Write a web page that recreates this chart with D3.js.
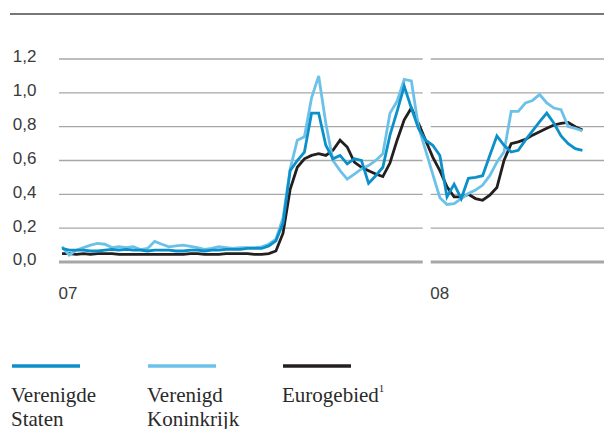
<!DOCTYPE html>
<html>
<head>
<meta charset="utf-8">
<script src="https://cdn.jsdelivr.net/npm/d3@7"></script>
<style>
  body { margin: 0; background: #fff; }
  svg { display: block; }
  .tick text { font-family: "Liberation Sans", Arial, sans-serif; font-size: 17px; fill: #3a3a3a; }
  .legend text { font-family: "Liberation Serif", "Times New Roman", serif; font-size: 21px; fill: #2a2a2a; }
</style>
</head>
<body>
<div id="chart"></div>
<script>
document.addEventListener("DOMContentLoaded", function () {

    // Weekly rates, first week of 2007 up to early June 2008
    var firstWeek = new Date(2007, 0, 4);

    var us = [
      0.08, 0.07, 0.07, 0.07, 0.065, 0.065, 0.07, 0.075, 0.07, 0.075, 0.07, 0.07, 0.065, 0.07, 0.07, 0.07,
      0.065, 0.065, 0.07, 0.07, 0.065, 0.07, 0.07, 0.075, 0.075, 0.075, 0.08, 0.08, 0.08, 0.095, 0.125,
      0.23, 0.54, 0.60, 0.65, 0.88, 0.88, 0.69, 0.61, 0.63, 0.58, 0.61, 0.60, 0.465, 0.51, 0.56, 0.75,
      0.89, 1.04, 0.91, 0.79, 0.72,
      0.69, 0.63, 0.385, 0.46, 0.375, 0.495, 0.50, 0.51, 0.63, 0.745, 0.69, 0.65, 0.66, 0.72, 0.775,
      0.83, 0.88, 0.82, 0.745, 0.70, 0.67, 0.66
    ];

    var uk = [
      0.09, 0.04, 0.07, 0.085, 0.10, 0.11, 0.105, 0.085, 0.09, 0.085, 0.09, 0.073, 0.08, 0.122, 0.105, 0.09,
      0.095, 0.10, 0.093, 0.085, 0.075, 0.08, 0.09, 0.085, 0.08, 0.085, 0.085, 0.085, 0.09, 0.105, 0.135,
      0.26, 0.55, 0.72, 0.74, 0.97, 1.10, 0.82, 0.60, 0.54, 0.49, 0.52, 0.55, 0.57, 0.60, 0.64, 0.88,
      0.95, 1.08, 1.07, 0.80, 0.66,
      0.52, 0.38, 0.34, 0.345, 0.375, 0.405, 0.425, 0.455, 0.51, 0.59, 0.65, 0.89, 0.89, 0.94, 0.955,
      0.99, 0.94, 0.91, 0.90, 0.80, 0.79, 0.775
    ];

    var euro = [
      0.05, 0.05, 0.045, 0.05, 0.045, 0.05, 0.05, 0.05, 0.045, 0.045, 0.045, 0.045, 0.045, 0.045, 0.045, 0.045,
      0.045, 0.045, 0.05, 0.05, 0.045, 0.045, 0.045, 0.05, 0.05, 0.05, 0.05, 0.045, 0.045, 0.05, 0.065,
      0.17, 0.43, 0.56, 0.61, 0.63, 0.64, 0.63, 0.66, 0.72, 0.68, 0.59, 0.56, 0.54, 0.52, 0.505, 0.585,
      0.72, 0.84, 0.91, 0.82, 0.72,
      0.62, 0.54, 0.445, 0.385, 0.385, 0.40, 0.375, 0.365, 0.395, 0.44, 0.60, 0.70, 0.71, 0.725, 0.75,
      0.77, 0.79, 0.81, 0.82, 0.825, 0.80, 0.78
    ];

    var yTicks = [0, 0.2, 0.4, 0.6, 0.8, 1.0, 1.2];
    var years = [new Date(2007, 0, 1), new Date(2008, 0, 1)];
    var yearLabels = ["07", "08"];

    var seriesNames = ["Verenigde Staten", "Verenigd Koninkrijk", "Eurogebied"];
    var seriesColors = ["#0b90c9", "#6cc1e9", "#231f20"];

    var w = 604;
    var h = 429;

    var x = d3.scaleTime()
      .domain([new Date(2007, 0, 1), new Date(2008, 0, 1)])
      .range([59, 430.7]);

    var y = d3.scaleLinear()
      .domain([0, 1.2])
      .range([262, 59]);

    var svg = d3.select("#chart")
      .append("svg")
      .attr("width", w)
      .attr("height", h);

    // rule at the top
    svg.append("line")
      .attr("x1", 10).attr("x2", w)
      .attr("y1", 14).attr("y2", 14)
      .attr("stroke", "#4a4a4a")
      .attr("stroke-width", 1.5);

    // gridlines, one segment per year with a small gap between
    var segments = years.map(function (d, i) {
      var next = d3.timeYear.offset(d, 1);
      return { x0: x(d), x1: i < years.length - 1 ? x(next) - 8 : w };
    });

    yTicks.forEach(function (t) {
      svg.append("g")
        .selectAll("line")
        .data(segments)
        .enter()
        .append("line")
        .attr("x1", d => d.x0)
        .attr("x2", d => d.x1)
        .attr("y1", y(t))
        .attr("y2", y(t))
        .attr("stroke", "#a7a7a9")
        .attr("stroke-width", t === 0 ? 3 : 1.4);
    });

    // y axis labels
    var yAxis = d3.axisLeft(y)
      .tickValues(yTicks)
      .tickSize(0)
      .tickPadding(0)
      .tickFormat(d => d3.format(".1f")(d).replace(".", ","));

    svg.append("g")
      .attr("class", "y axis")
      .attr("transform", "translate(36.5,0)")
      .call(yAxis)
      .call(g => g.select(".domain").remove())
      .selectAll("text")
      .attr("dy", "0.17em");

    // x axis labels
    var xAxis = d3.axisBottom(x)
      .tickValues(years)
      .tickSize(0)
      .tickPadding(0)
      .tickFormat((d, i) => yearLabels[i]);

    svg.append("g")
      .attr("class", "x axis")
      .attr("transform", "translate(-1,299)")
      .call(xAxis)
      .call(g => g.select(".domain").remove())
      .selectAll("text")
      .attr("text-anchor", "start")
      .attr("dy", 0)
      .attr("y", 0);

    // lines
    var line = d3.line()
      .x((d, i) => x(d3.timeDay.offset(firstWeek, 7 * i)))
      .y(d => y(d));

    var drawOrder = [[euro, 2], [uk, 1], [us, 0]];
    drawOrder.forEach(function (s) {
      svg.append("path")
        .datum(s[0])
        .attr("fill", "none")
        .attr("stroke", seriesColors[s[1]])
        .attr("stroke-width", 2.8)
        .attr("d", line);
    });

    // legend
    var legendX = [12, 148, 283];
    var legendLines = [["Verenigde", "Staten"], ["Verenigd", "Koninkrijk"], ["Eurogebied"]];

    var legend = svg.append("g")
      .attr("class", "legend")
      .selectAll("g")
      .data(seriesNames)
      .enter()
      .append("g")
      .attr("transform", (d, i) => "translate(" + legendX[i] + ",0)");

    legend.append("line")
      .attr("x1", 0).attr("x2", 68)
      .attr("y1", 366).attr("y2", 366)
      .attr("stroke", (d, i) => seriesColors[i])
      .attr("stroke-width", 3.5);

    legend.each(function (d, i) {
      var t = d3.select(this).append("text").attr("x", -1).attr("y", 402);
      legendLines[i].forEach(function (part, j) {
        t.append("tspan")
          .attr("x", -1)
          .attr("dy", j === 0 ? 0 : 23.5)
          .text(part);
      });
      if (i === 2) {
        t.append("tspan")
          .attr("dy", -10)
          .attr("font-size", "11px")
          .text("1");
      }
    });
});
</script>
</body>
</html>
